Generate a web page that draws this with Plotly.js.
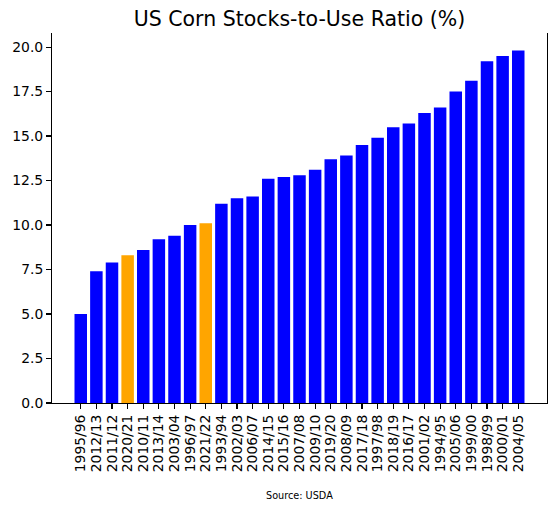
<!DOCTYPE html>
<html>
<head>
<meta charset="utf-8">
<script src="https://cdn.plot.ly/plotly-3.0.1.min.js"></script>
<style>html,body{margin:0;padding:0;background:#fff;}</style>
</head>
<body>
<div id="chart" style="width:556px;height:510px;"></div>
<script>
const seasons = ["1995/96","2012/13","2011/12","2020/21","2010/11","2013/14","2003/04","1996/97","2021/22","1993/94","2002/03","2006/07","2014/15","2015/16","2007/08","2009/10","2019/20","2008/09","2017/18","1997/98","2018/19","2016/17","2001/02","1994/95","2005/06","1999/00","1998/99","2000/01","2004/05"];
const ratios = [5.0,7.4,7.9,8.3,8.6,9.2,9.4,10.0,10.1,11.2,11.5,11.6,12.6,12.7,12.8,13.1,13.7,13.9,14.5,14.9,15.5,15.7,16.3,16.6,17.5,18.1,19.2,19.5,19.8];
const highlighted = ["2020/21","2021/22"];
const yTicks = [0,2.5,5,7.5,10,12.5,15,17.5,20];

const colors = seasons.map(s => highlighted.includes(s) ? "#ffa500" : "#0000ff");
const n = seasons.length;
const ymax = Math.max(...ratios) * 1.05;

const trace = {
  type: "bar",
  x: seasons,
  y: ratios,
  marker: {color: colors, line: {width: 0}},
  hoverinfo: "x+y"
};

const layout = {
  width: 556, height: 510,
  margin: {l: 52, r: 9, t: 33, b: 107},
  paper_bgcolor: "#fff", plot_bgcolor: "#fff",
  font: {family: "DejaVu Sans", size: 13.9, color: "#000"},
  bargap: 0.2,
  showlegend: false,
  title: {text: "US Corn Stocks-to-Use Ratio (%)", font: {size: 20.5, color: "#000"}, x: 0.5, xref: "paper", y: 1 - 19/510, yanchor: "middle"},
  xaxis: {
    type: "category",
    range: [-1.84, n - 1 + 1.84],
    tickmode: "array", tickvals: seasons, ticktext: seasons,
    showline: true, linecolor: "#000", linewidth: 1.1,
    ticks: "outside", ticklen: 4.9, tickwidth: 1.1, tickcolor: "#000",
    tickangle: -90, showgrid: false, zeroline: false,
    tickfont: {size: 13.9}
  },
  yaxis: {
    range: [0, ymax],
    tickvals: yTicks, tickformat: ".1f",
    showline: true, mirror: true, linecolor: "#000", linewidth: 1.1,
    ticks: "outside", ticklen: 4.9, tickwidth: 1.1, tickcolor: "#000",
    showgrid: false, zeroline: false,
    tickfont: {size: 13.9}
  },
  annotations: [{
    text: "Source: USDA", xref: "paper", yref: "paper", x: 0.5, y: -92.7/370,
    xanchor: "center", yanchor: "middle", showarrow: false, font: {size: 9.7, color: "#000"}
  }]
};

Plotly.newPlot("chart", [trace], layout, {displayModeBar: false, staticPlot: true});
</script>
</body>
</html>
